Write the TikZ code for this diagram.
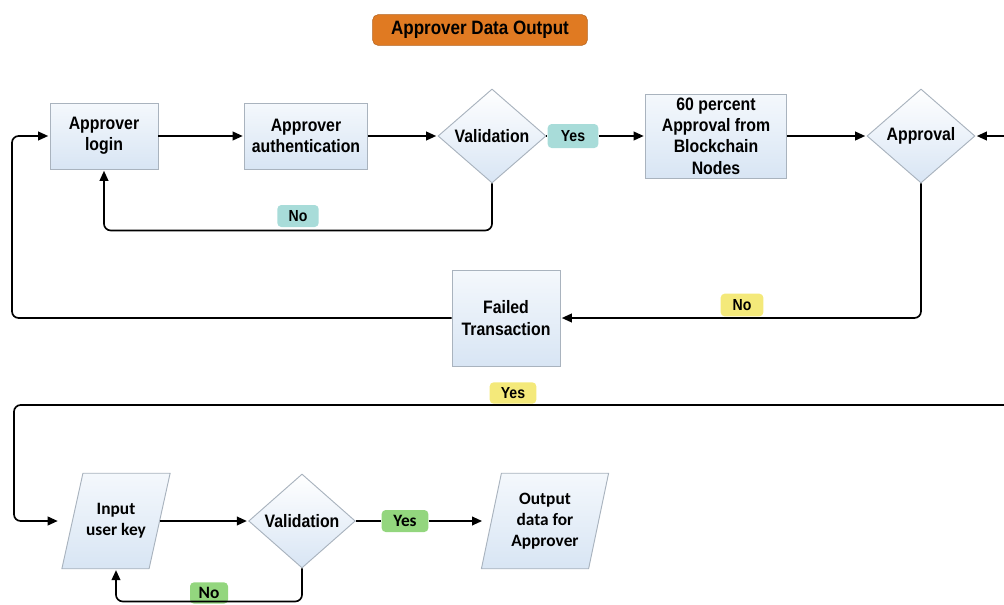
\documentclass[tikz,border=0pt]{standalone}
\usepackage{fontspec}
\setmainfont{Liberation Sans}[FakeStretch=0.88]
\newfontfamily\calfont{Carlito}
\usetikzlibrary{shapes.geometric,arrows.meta,backgrounds}

\definecolor{boxtop}{HTML}{F4F8FC}
\definecolor{boxblue}{HTML}{D8E5F4}
\definecolor{boxedge}{HTML}{A9B3BE}
\definecolor{titleorange}{HTML}{E07A22}
\definecolor{tagteal}{HTML}{A8DCD9}
\definecolor{tagyellow}{HTML}{F4E97A}
\definecolor{taggreen}{HTML}{93D67E}

\begin{document}
\begin{tikzpicture}[x=0.75pt,y=-0.75pt,
  txt/.style={font=\bfseries\fontsize{13.5}{16}\selectfont, align=center},
  caltxt/.style={font=\calfont\bfseries\fontsize{13}{15.75}\selectfont, align=center},
  shade/.style={draw=boxedge, line width=0.7pt, top color=boxtop, bottom color=boxblue},
  procbox/.style={shade, txt, inner sep=1pt},
  decision/.style={draw=boxedge, line width=0.7pt, top color=white, bottom color=boxblue,
                   txt, diamond, inner sep=0pt, aspect=1.15},
  iobox/.style={caltxt, inner sep=0pt},
  tag/.style={rounded corners=3pt, inner sep=0pt, font=\bfseries\fontsize{12}{14}\selectfont},
  caltag/.style={rounded corners=3pt, inner sep=0pt, font=\calfont\bfseries\fontsize{13}{15}\selectfont},
  flow/.style={line width=1.25pt, black},
  arr/.style={flow, -{Triangle[length=7.5pt,width=6.5pt]}, shorten >=1pt},
  loop/.style={arr, rounded corners=5pt}
]
\useasboundingbox (0,0) rectangle (1004,604);

% heading
\node[fill=titleorange, draw=titleorange!80!black, line width=0.4pt, rounded corners=4pt,
      minimum width=161pt, minimum height=23pt, inner sep=0pt,
      font=\bfseries\fontsize{14.5}{16}\selectfont] (title) at (480,30) {Approver Data Output};

% upper row
\node[procbox, minimum width=81pt, minimum height=49.5pt] (login) at (104,136) {Approver\\login};
\node[procbox, minimum width=92.25pt, minimum height=49.5pt] (auth) at (306,136) {Approver\\authentication};
\node[decision, minimum width=81pt, minimum height=70.5pt] (val1) at (492,136) {Validation};
\node[fill=tagteal, tag, minimum width=38pt, minimum height=18pt] (yes1) at (573,136) {Yes};
\node[procbox, minimum width=105.75pt, minimum height=63pt] (p60) at (716,136) {60 percent\\Approval from\\Blockchain\\Nodes};
\node[decision, minimum width=81pt, minimum height=70.5pt] (appr) at (921,136) {Approval};
\node[procbox, minimum width=81pt, minimum height=72pt] (failed) at (506,318) {Failed\\Transaction};

\node[fill=tagteal, tag, minimum width=31pt, minimum height=16.5pt] (no1) at (298,216) {No};
\node[fill=tagyellow, tag, minimum width=32pt, minimum height=17pt] (no2) at (742,305) {No};
\node[fill=tagyellow, tag, minimum width=35pt, minimum height=16pt] (yes3) at (513,393) {Yes};

% lower row (input/output nodes carry the text; their slanted outlines go behind)
\node[iobox, minimum width=65pt, minimum height=71.25pt] (inp) at (116,521) {Input\\user key};
\node[decision, minimum width=80pt, minimum height=70.5pt] (val2) at (302,521) {Validation};
\node[fill=taggreen, caltag, minimum width=35pt, minimum height=16.5pt] (yes4) at (405,521) {Yes};
\node[iobox, minimum width=80pt, minimum height=71.25pt] (out) at (545,521) {Output\\data for\\Approver};
\node[fill=taggreen, caltag, minimum width=28.5pt, minimum height=16pt] (no4) at (209,593) {No};

\begin{scope}[on background layer]
  \path[shade] ([xshift=-7.9pt]inp.south west) -- ([xshift=7.9pt]inp.north west)
     -- ([xshift=7.9pt]inp.north east) -- ([xshift=-7.9pt]inp.south east) -- cycle;
  \path[shade] ([xshift=-7.5pt]out.south west) -- ([xshift=7.5pt]out.north west)
     -- ([xshift=7.5pt]out.north east) -- ([xshift=-7.5pt]out.south east) -- cycle;
\end{scope}

% loose ends and bends
\coordinate (rin) at (1004,136);
\coordinate (rin2) at (1004,405);
\coordinate (lb) at (12,318);
\coordinate (lt) at (12,136);
\coordinate (yl) at (14,405);

% connectors, upper row
\draw[arr] (login) -- (auth);
\draw[arr] (auth) -- (val1);
\draw[flow] (val1) -- (yes1);
\draw[arr] (yes1) -- (p60);
\draw[arr] (p60) -- (appr);
\draw[arr] (rin) -- (appr.east);
\draw[loop] (appr.south) |- (failed.east);
\draw[loop] (failed.west) -- (lb) -- (lt) -- (login.west);
\draw[loop] (val1.south) -- ++(0,47) -| (login.south);

% connectors, lower row
\draw[loop, shorten >=11pt] (rin2) -- (yl) |- (inp.west);
\draw[arr, shorten >=1pt] (inp) -- (val2);
\draw[flow] (val2) -- (yes4);
\draw[arr, shorten >=7pt] (yes4) -- (out);
\draw[loop] (val2.south) -- ++(0,33) -| (inp.south);
\end{tikzpicture}
\end{document}
